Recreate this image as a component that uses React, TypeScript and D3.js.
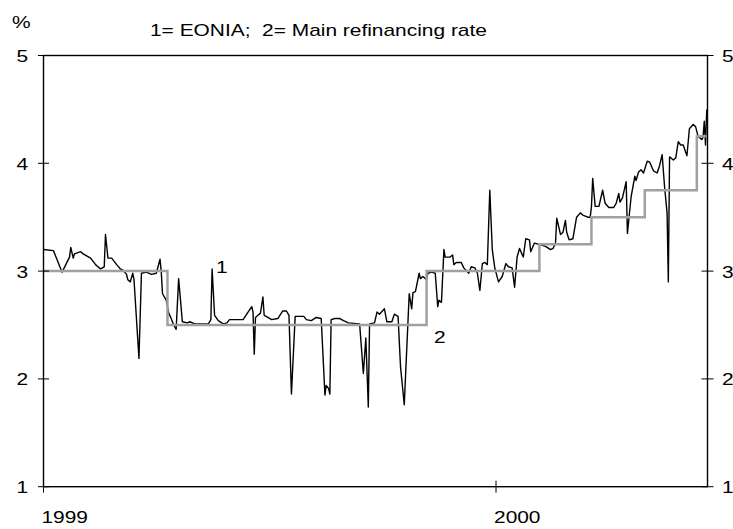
import React from "react";
import * as d3 from "d3";

// Days counted from 1 January 1999
const eoniaDay = [
  0, 8, 15, 21, 22, 24, 25, 30, 32, 38, 42, 46, 49, 50, 52, 55, 59, 62, 64, 67, 68, 70, 72, 73, 77, 79, 83, 87, 91, 94, 95, 96, 99, 101, 103, 105, 107, 109, 112, 116, 118, 122, 133, 135, 136, 138, 141, 145, 148, 150, 156, 161, 165, 168, 169, 170, 171, 173, 175, 177, 178, 181, 184, 189, 193, 196, 198, 200, 203, 205, 210, 212, 216, 220, 224, 227, 228, 230, 231, 232, 235, 239, 242, 246, 255, 258, 260, 262, 263, 267, 269, 271, 275, 277, 281, 283, 286, 288, 291, 295, 297, 298, 300, 303, 304, 306, 309, 310, 313, 316, 318, 319, 321, 323, 324, 328, 330, 331, 333, 337, 339, 343, 345, 348, 350, 352, 354, 356, 358, 360, 362, 364, 367, 370, 373, 375, 378, 380, 382, 384, 387, 389, 392, 393, 396, 399, 405, 409, 411, 413, 414, 417, 419, 421, 422, 424, 427, 430, 433, 435, 439, 441, 442, 443, 445, 448, 451, 453, 456, 460, 462, 464, 465, 467, 470, 471, 474, 477, 478, 480, 482, 484, 487, 489, 492, 495, 497, 499, 501, 503, 504, 505, 508, 510, 512, 514, 516, 519, 521, 524, 526, 528, 531, 532, 533, 534, 535,
];
const eoniaRate = [
  3.2, 3.19, 2.99, 3.13, 3.22, 3.12, 3.16, 3.18, 3.16, 3.12, 3.06, 3.02, 3.04, 3.34, 3.12, 3.12, 3.06, 3.02, 3.01, 2.97, 2.92, 2.9, 2.98, 2.92, 2.19, 2.98, 2.99, 2.97, 2.98, 3.11, 2.99, 2.79, 2.73, 2.61, 2.56, 2.5, 2.46, 2.93, 2.53, 2.52, 2.53, 2.51, 2.51, 2.55, 3.02, 2.59, 2.54, 2.51, 2.52, 2.55, 2.55, 2.55, 2.62, 2.67, 2.62, 2.23, 2.57, 2.59, 2.61, 2.76, 2.59, 2.57, 2.55, 2.56, 2.63, 2.63, 2.59, 1.86, 2.58, 2.58, 2.58, 2.55, 2.54, 2.57, 2.56, 1.85, 1.94, 1.91, 1.86, 2.55, 2.56, 2.56, 2.54, 2.52, 2.51, 2.05, 2.38, 1.74, 2.51, 2.52, 2.62, 2.6, 2.65, 2.53, 2.53, 2.6, 2.58, 2.11, 1.76, 2.79, 2.65, 2.8, 2.81, 2.98, 2.93, 2.95, 2.92, 2.98, 2.99, 2.98, 2.67, 2.73, 2.71, 3.2, 3.13, 3.13, 3.15, 3.06, 3.08, 3.08, 3.03, 2.98, 3.04, 3.03, 2.98, 2.82, 3.07, 3.08, 3.06, 3.75, 3.2, 3.03, 2.9, 2.95, 3.07, 3.04, 3.03, 2.85, 3.13, 3.21, 3.13, 3.3, 3.29, 3.18, 3.26, 3.25, 3.23, 3.2, 3.21, 3.26, 3.49, 3.34, 3.36, 3.47, 3.36, 3.29, 3.3, 3.5, 3.54, 3.52, 3.5, 3.5, 3.6, 3.86, 3.6, 3.6, 3.75, 3.63, 3.59, 3.59, 3.63, 3.72, 3.64, 3.68, 3.83, 3.35, 3.69, 3.88, 3.84, 3.92, 3.94, 3.91, 4.02, 4.01, 3.93, 3.91, 3.98, 4.08, 3.78, 3.54, 2.9, 4.06, 4.03, 4.05, 4.2, 4.17, 4.17, 4.07, 4.32, 4.36, 4.34, 4.25, 4.22, 4.24, 4.39, 4.17, 4.5,
];

const mroStartDay = [0, 100, 309, 400, 442, 485, 527];
const mroRate = [3.0, 2.5, 3.0, 3.25, 3.5, 3.75, 4.25];

const yTicks = [1, 2, 3, 4, 5];
const xTickYears = [1999, 2000];
const title = "1= EONIA;  2= Main refinancing rate";
const unitLabel = "%";
const seriesLabels = ["1", "2"];

const W = 733;
const H = 529;
const left = 43.5;
const right = 707.5;
const top = 55.5;
const bottom = 486.7;
const FONT = "'Liberation Sans', Arial, sans-serif";
const FS = 17;
const SX = 1.23;

const start = new Date(1999, 0, 1);
const dayToDate = (d: number) => new Date(start.getTime() + d * 86400000);
const endDate = new Date(start.getTime() + 535.6 * 86400000);

export default function App() {
  const x = d3.scaleTime().domain([start, endDate]).range([left, right]);
  const y = d3.scaleLinear().domain([1, 5]).range([bottom, top]);

  const eonia = eoniaDay.map((d, i) => ({ date: dayToDate(d), v: eoniaRate[i] }));
  const mro = mroStartDay.map((d, i) => ({ date: dayToDate(d), v: mroRate[i] }));
  mro.push({ date: endDate, v: mroRate[mroRate.length - 1] });

  const line = d3
    .line<{ date: Date; v: number }>()
    .x((p) => x(p.date))
    .y((p) => y(p.v));
  const stepLine = d3
    .line<{ date: Date; v: number }>()
    .x((p) => x(p.date))
    .y((p) => y(p.v))
    .curve(d3.curveStepAfter);

  const txt = (
    s: string,
    tx: number,
    ty: number,
    anchor: "start" | "end" | "middle" = "start"
  ) => (
    <text
      transform={`translate(${tx},${ty}) scale(${SX},1)`}
      textAnchor={anchor}
      fontFamily={FONT}
      fontSize={FS}
      fill="#000"
      style={{ whiteSpace: "pre" }}
    >
      {s}
    </text>
  );

  return (
    <svg
      width={W}
      height={H}
      style={{ position: "absolute", left: 0, top: 0, background: "#fff" }}
    >
      <rect x={0} y={0} width={W} height={H} fill="#fff" />
      {/* series */}
      <path d={line(eonia) ?? ""} fill="none" stroke="#000" strokeWidth={1.4} strokeLinejoin="round" />
      <path d={stepLine(mro) ?? ""} fill="none" stroke="#a0a0a0" strokeWidth={2.5} />

      {/* frame */}
      <rect x={left} y={top} width={right - left} height={bottom - top} fill="none" stroke="#000" strokeWidth={1.4} />

      {/* y ticks left & right */}
      {yTicks.map((t) => (
        <g key={"yt" + t}>
          <line x1={left - 5.5} x2={left + 5.5} y1={y(t)} y2={y(t)} stroke="#000" strokeWidth={1} />
          <line x1={right - 6} x2={right + 6} y1={y(t)} y2={y(t)} stroke="#000" strokeWidth={1} />
          {txt(String(t), 28, y(t) + 6.5, "end")}
          {txt(String(t), 722, y(t) + 6.5, "start")}
        </g>
      ))}

      {/* x ticks */}
      {xTickYears.map((yr) => {
        const px = x(new Date(yr, 0, 1));
        return (
          <g key={"xt" + yr}>
            <line x1={px} x2={px} y1={bottom - 6} y2={bottom + 6} stroke="#000" strokeWidth={1} />
            {txt(String(yr), px - 2, 523, "start")}
          </g>
        );
      })}

      {/* titles */}
      {txt(unitLabel, 12, 28, "start")}
      {txt(title, 150, 36, "start")}

      {/* series labels */}
      {txt(seriesLabels[0], 216, 273, "start")}
      {txt(seriesLabels[1], 434, 343, "start")}
    </svg>
  );
}
